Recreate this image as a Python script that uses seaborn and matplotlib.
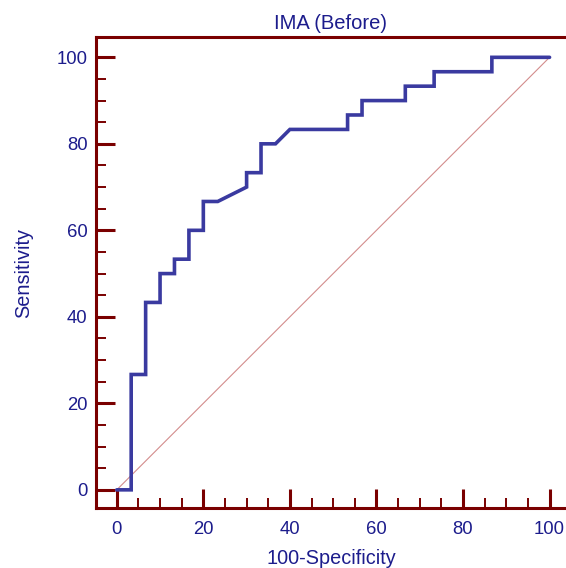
import matplotlib
matplotlib.use("Agg")
import matplotlib.pyplot as plt
import seaborn as sns
import pandas as pd
from matplotlib.ticker import MultipleLocator

# ROC curve points (100-Specificity, Sensitivity)
fpr = [0, 3.33, 3.33, 6.67, 6.67, 10, 10, 13.33, 13.33, 16.67, 16.67, 20, 20,
       23.33, 30, 30, 33.33, 33.33, 36.67, 40, 53.33, 53.33, 56.67, 56.67,
       66.67, 66.67, 73.33, 73.33, 86.67, 86.67, 100]
tpr = [0, 0, 26.67, 26.67, 43.33, 43.33, 50, 50, 53.33, 53.33, 60, 60, 66.67,
       66.67, 70, 73.33, 73.33, 80, 80, 83.33, 83.33, 86.67, 86.67, 90,
       90, 93.33, 93.33, 96.67, 96.67, 100, 100]
ref_x = [0, 100]
ref_y = [0, 100]
x_ticks = [0, 20, 40, 60, 80, 100]
y_ticks = [0, 20, 40, 60, 80, 100]
title = "IMA (Before)"
x_label = "100-Specificity"
y_label = "Sensitivity"

sns.set_style("white")
plt.rcParams['font.family'] = ['Liberation Sans', 'DejaVu Sans']

TXT = "#1c1c8c"
AX = "#7a0000"
CURVE = "#3a3aa0"

fig = plt.figure(figsize=(5.66, 5.68), dpi=100)
ax = fig.add_axes([96 / 566, 1 - 508 / 568, 1 - 96 / 566, (508 - 37) / 568])

roc = pd.DataFrame({"x": fpr, "y": tpr})
ref = pd.DataFrame({"x": ref_x, "y": ref_y})

sns.lineplot(data=ref, x="x", y="y", ax=ax, sort=False, estimator=None,
             color="#c87070", linewidth=0.8, alpha=0.8)
sns.lineplot(data=roc, x="x", y="y", ax=ax, sort=False, estimator=None,
             color=CURVE, linewidth=2.6, solid_joinstyle="miter")

ax.set_xlim(-4.8, 103.8)
ax.set_ylim(-4.2, 104.7)
ax.set_xticks(x_ticks)
ax.set_yticks(y_ticks)
ax.xaxis.set_minor_locator(MultipleLocator(5))
ax.yaxis.set_minor_locator(MultipleLocator(5))

for side in ["left", "bottom", "top"]:
    ax.spines[side].set_color(AX)
    ax.spines[side].set_linewidth(2.2)
ax.spines["right"].set_visible(False)

ax.tick_params(which="major", direction="in", length=13.5, width=2.2,
               color=AX, labelcolor=TXT, labelsize=13.3, top=False, right=False)
ax.tick_params(which="minor", direction="in", length=7, width=1.4,
               color=AX, top=False, right=False)
ax.tick_params(axis="y", which="major", pad=6)
ax.tick_params(axis="x", which="major", pad=9)
ax.tick_params(axis="both", which="both", left=True, bottom=True)

ax.set_title(title, color=TXT, fontsize=14.5, pad=6)
ax.set_xlabel(x_label, color=TXT, fontsize=14.3, labelpad=8)
ax.set_ylabel(y_label, color=TXT, fontsize=14.3, labelpad=17)

fig.savefig("out.png", dpi=100)
